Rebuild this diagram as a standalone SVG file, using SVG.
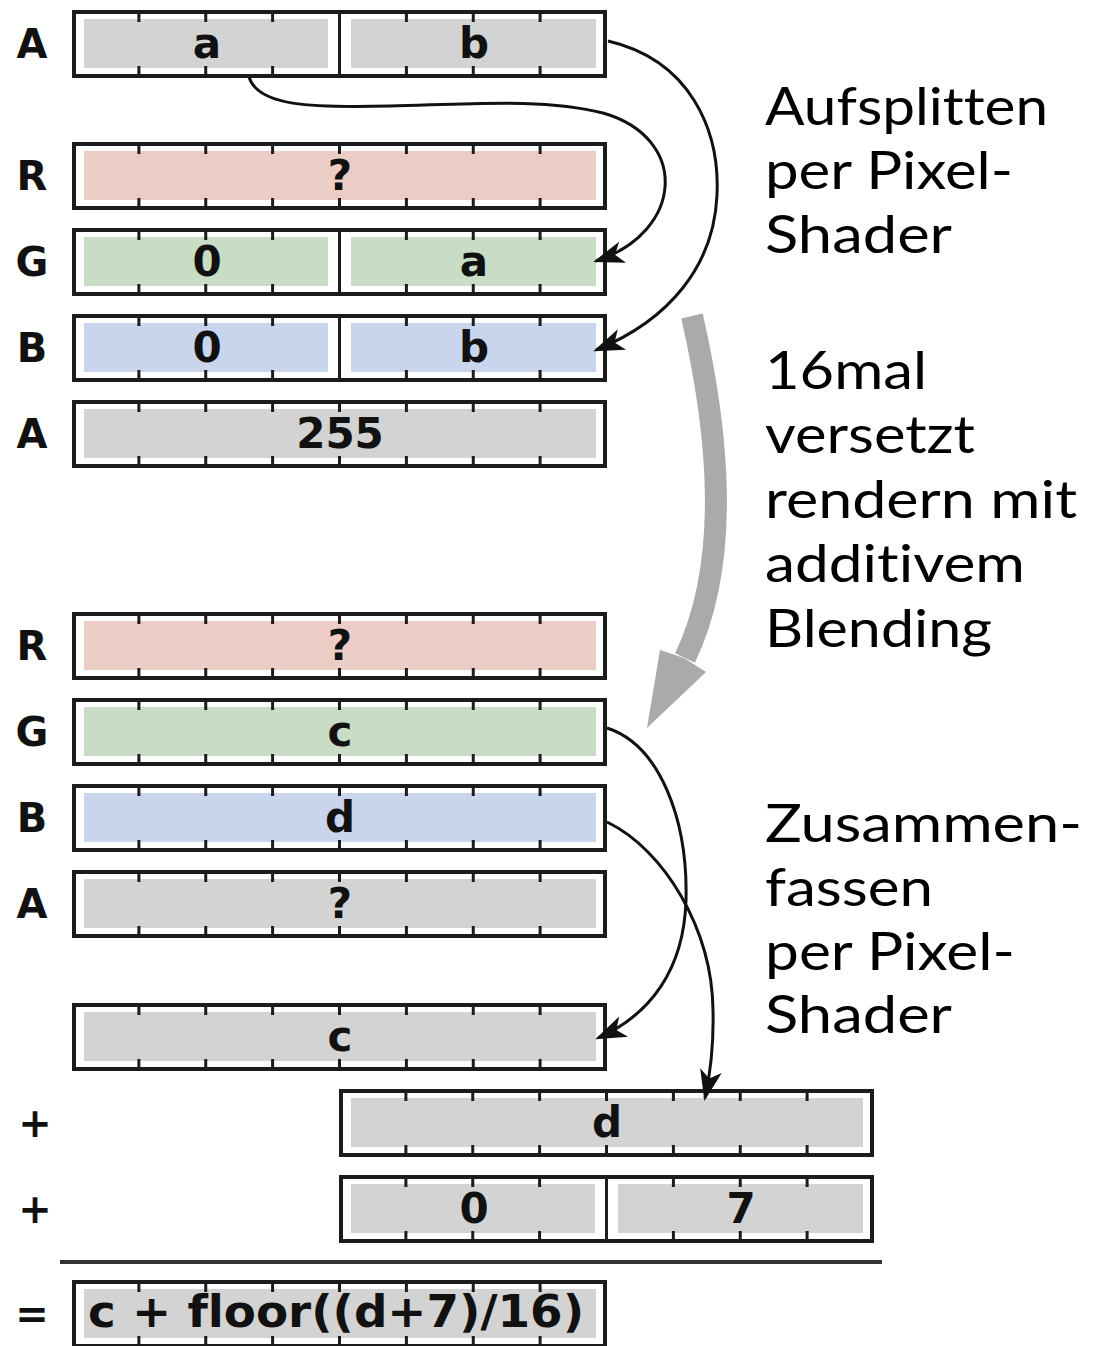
<svg xmlns="http://www.w3.org/2000/svg" xmlns:xlink="http://www.w3.org/1999/xlink" width="1104" height="1346" viewBox="0 0 1104 1346">
<style>
text{font-variant-ligatures:none}
.lbl{font-family:"DejaVu Sans","Noto Sans",sans-serif;font-weight:bold;font-size:40px;fill:#111;text-anchor:middle}
.val{font-family:"DejaVu Sans","Noto Sans",sans-serif;font-weight:bold;font-size:42px;fill:#111;text-anchor:middle}
.formula{font-family:"DejaVu Sans Condensed","DejaVu Sans","Noto Sans",sans-serif;font-weight:bold;font-size:44px;fill:#111}
.note{font-family:"Lato","Open Sans","Liberation Sans",sans-serif;font-size:52px;fill:#000}
.gray{fill:#d3d3d3}
.red{fill:#ebcdc5}
.green{fill:#c9dcc6}
.blue{fill:#c8d5ec}
.div{stroke:#1c1c1c;stroke-width:3}
.conn{fill:none;stroke:#111;stroke-width:3;marker-end:url(#ah)}
</style>
<defs>
<rect id="frame" x="2" y="2" width="531" height="64" fill="#fff" stroke="#1c1c1c" stroke-width="4"/>
<path id="ticks" fill="none" stroke="#1c1c1c" stroke-width="3" d="M66.9 2V12M133.75 2V12M200.6 2V12M267.5 2V12M334.4 2V12M401.25 2V12M468.1 2V12M66.9 56V66M133.75 56V66M200.6 56V66M267.5 56V66M334.4 56V66M401.25 56V66M468.1 56V66"/>
<marker id="ah" viewBox="-32 -13 36 26" refX="0" refY="0" markerWidth="36" markerHeight="26" markerUnits="userSpaceOnUse" orient="auto">
<path d="M3,0 L-28,-11 L-20,0 L-28,11 Z" fill="#111"/>
</marker>
</defs>
<rect width="1104" height="1346" fill="#fff"/>

<g id="row-A-top" transform="translate(72,10)">
<text class="lbl" x="-40" y="48">A</text>
<use href="#frame"/>
<rect class="gray" x="12" y="9" width="244" height="49"/>
<rect class="gray" x="279" y="9" width="245" height="49"/>
<line class="div" x1="267.5" y1="2" x2="267.5" y2="66"/>
<use href="#ticks"/>
<text class="val" x="135" y="48">a</text>
<text class="val" x="402" y="48">b</text>
</g>

<g id="row-R-top" transform="translate(72,142)">
<text class="lbl" x="-40" y="48">R</text>
<use href="#frame"/>
<rect class="red" x="12" y="9" width="512" height="49"/>
<use href="#ticks"/>
<text class="val" x="268" y="48">?</text>
</g>

<g id="row-G-top" transform="translate(72,228)">
<text class="lbl" x="-40" y="48">G</text>
<use href="#frame"/>
<rect class="green" x="12" y="9" width="244" height="49"/>
<rect class="green" x="279" y="9" width="245" height="49"/>
<line class="div" x1="267.5" y1="2" x2="267.5" y2="66"/>
<use href="#ticks"/>
<text class="val" x="135" y="48">0</text>
<text class="val" x="402" y="48">a</text>
</g>

<g id="row-B-top" transform="translate(72,314)">
<text class="lbl" x="-40" y="48">B</text>
<use href="#frame"/>
<rect class="blue" x="12" y="9" width="244" height="49"/>
<rect class="blue" x="279" y="9" width="245" height="49"/>
<line class="div" x1="267.5" y1="2" x2="267.5" y2="66"/>
<use href="#ticks"/>
<text class="val" x="135" y="48">0</text>
<text class="val" x="402" y="48">b</text>
</g>

<g id="row-A-255" transform="translate(72,400)">
<text class="lbl" x="-40" y="48">A</text>
<use href="#frame"/>
<rect class="gray" x="12" y="9" width="512" height="49"/>
<use href="#ticks"/>
<text class="val" x="268" y="48">255</text>
</g>

<g id="row-R-bottom" transform="translate(72,612)">
<text class="lbl" x="-40" y="48">R</text>
<use href="#frame"/>
<rect class="red" x="12" y="9" width="512" height="49"/>
<use href="#ticks"/>
<text class="val" x="268" y="48">?</text>
</g>

<g id="row-G-bottom" transform="translate(72,698)">
<text class="lbl" x="-40" y="48">G</text>
<use href="#frame"/>
<rect class="green" x="12" y="9" width="512" height="49"/>
<use href="#ticks"/>
<text class="val" x="268" y="48">c</text>
</g>

<g id="row-B-bottom" transform="translate(72,784)">
<text class="lbl" x="-40" y="48">B</text>
<use href="#frame"/>
<rect class="blue" x="12" y="9" width="512" height="49"/>
<use href="#ticks"/>
<text class="val" x="268" y="48">d</text>
</g>

<g id="row-A-bottom" transform="translate(72,870)">
<text class="lbl" x="-40" y="48">A</text>
<use href="#frame"/>
<rect class="gray" x="12" y="9" width="512" height="49"/>
<use href="#ticks"/>
<text class="val" x="268" y="48">?</text>
</g>

<g id="sum-c" transform="translate(72,1003)">
<use href="#frame"/>
<rect class="gray" x="12" y="9" width="512" height="49"/>
<use href="#ticks"/>
<text class="val" x="268" y="48">c</text>
</g>

<g id="sum-d" transform="translate(339,1089)">
<text class="lbl" x="-304" y="48">+</text>
<use href="#frame"/>
<rect class="gray" x="12" y="9" width="512" height="49"/>
<use href="#ticks"/>
<text class="val" x="268" y="48">d</text>
</g>

<g id="sum-07" transform="translate(339,1175)">
<text class="lbl" x="-304" y="48">+</text>
<use href="#frame"/>
<rect class="gray" x="12" y="9" width="244" height="49"/>
<rect class="gray" x="279" y="9" width="245" height="49"/>
<line class="div" x1="267.5" y1="2" x2="267.5" y2="66"/>
<use href="#ticks"/>
<text class="val" x="135" y="48">0</text>
<text class="val" x="402" y="48">7</text>
</g>

<line id="sum-line" x1="60" y1="1262" x2="882" y2="1262" stroke="#333" stroke-width="4"/>

<g id="result" transform="translate(72,1280)">
<text class="lbl" x="-40" y="48">=</text>
<use href="#frame"/>
<rect class="gray" x="12" y="9" width="512" height="49"/>
<use href="#ticks"/>
<text class="formula" x="16" y="47" textLength="496" lengthAdjust="spacingAndGlyphs">c + floor((d+7)/16)</text>
</g>

<g id="connectors">
<path class="conn" d="M249 77 C258 106,310 108,390 106 C470 104,545 98,603 113 C690 138,684 232,596 261"/>
<path class="conn" d="M608 41 C690 60,720 130,717 195 C714 265,670 320,596 350"/>
<path class="conn" d="M607 728 C660 745,688 820,686 900 C684 970,650 1015,598 1038"/>
<path class="conn" d="M607 822 C665 850,712 930,713 1010 C714 1050,710 1075,705 1098"/>
<path id="blend-arrow" d="M692 316 C718 430,732 560,685 658" fill="none" stroke="#aaa" stroke-width="22"/>
<path d="M660 650 L684 658 L706 672 L647 728 Z" fill="#aaa"/>
</g>

<g id="note-split">
<text class="note" x="765" y="125" textLength="283" lengthAdjust="spacingAndGlyphs">Aufsplitten</text>
<text class="note" x="765" y="189" textLength="248" lengthAdjust="spacingAndGlyphs">per Pixel-</text>
<text class="note" x="765" y="253" textLength="187" lengthAdjust="spacingAndGlyphs">Shader</text>
</g>
<g id="note-blend">
<text class="note" x="765" y="389" textLength="162" lengthAdjust="spacingAndGlyphs">16mal</text>
<text class="note" x="765" y="453" textLength="210" lengthAdjust="spacingAndGlyphs">versetzt</text>
<text class="note" x="765" y="518" textLength="312" lengthAdjust="spacingAndGlyphs">rendern mit</text>
<text class="note" x="765" y="582" textLength="260" lengthAdjust="spacingAndGlyphs">additivem</text>
<text class="note" x="765" y="647" textLength="227" lengthAdjust="spacingAndGlyphs">Blending</text>
</g>
<g id="note-merge">
<text class="note" x="765" y="842" textLength="317" lengthAdjust="spacingAndGlyphs">Zusammen-</text>
<text class="note" x="765" y="906" textLength="168" lengthAdjust="spacingAndGlyphs">fassen</text>
<text class="note" x="765" y="970" textLength="250" lengthAdjust="spacingAndGlyphs">per Pixel-</text>
<text class="note" x="765" y="1033" textLength="187" lengthAdjust="spacingAndGlyphs">Shader</text>
</g>
</svg>
